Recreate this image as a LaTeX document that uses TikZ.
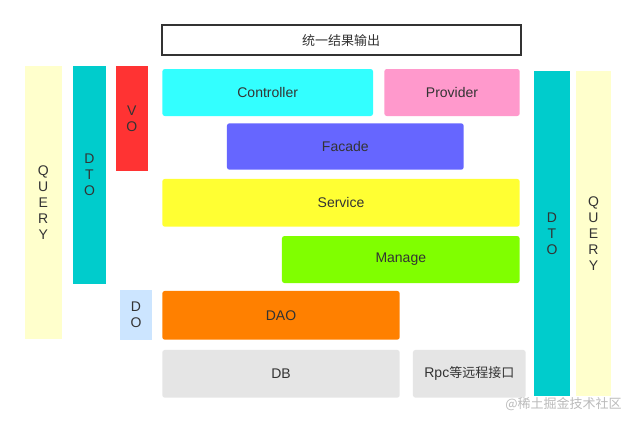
\documentclass[tikz,border=0pt]{standalone}
\usepackage{fontspec}
\setmainfont{Liberation Sans}
\newfontfamily\cjk{Noto Sans CJK SC}
\definecolor{txtgray}{HTML}{333333}
\definecolor{qrycol}{HTML}{FFFFCC}
\definecolor{dtocol}{HTML}{00CCCC}
\definecolor{vocol}{HTML}{FF3333}
\definecolor{docol}{HTML}{CCE5FF}
\definecolor{ctrlcol}{HTML}{33FFFF}
\definecolor{provcol}{HTML}{FF99CC}
\definecolor{faccol}{HTML}{6666FF}
\definecolor{servcol}{HTML}{FFFF33}
\definecolor{mngcol}{HTML}{80FF00}
\definecolor{daocol}{HTML}{FF8000}
\definecolor{dbcol}{HTML}{E5E5E5}
\definecolor{markgray}{HTML}{BBBBBB}
\begin{document}
\begin{tikzpicture}[x=1pt, y=-1pt, font=\fontsize{14}{16}\selectfont, text=txtgray,
		layer/.style={inner sep=0pt, rounded corners=2.5pt},
		column/.style={inner sep=0pt, align=center, font=\fontsize{14}{16}\selectfont}]
	\useasboundingbox[fill=white] (0,0) rectangle (636,424);
	\node[draw=txtgray, line width=2pt, inner sep=0pt, minimum width=359, minimum height=30] (out) at (341,40.2) {\cjk\fontsize{13}{16}\selectfont 统一结果输出};
	\node[column, fill=qrycol, minimum width=36.7, minimum height=273.3] (qryL) at (43.3,202.7) {Q\\U\\E\\R\\Y};
	\node[column, fill=dtocol, minimum width=33, minimum height=218.3] (dtoL) at (89.5,175.2) {D\\T\\O};
	\node[column, fill=vocol, minimum width=31.7, minimum height=104.7] (vo) at (131.8,118.3) {V\\O};
	\node[column, fill=docol, minimum width=32, minimum height=49.7] (do) at (136,314.8) {D\\O};
	\node[column, fill=dtocol, minimum width=36, minimum height=325] (dtoR) at (552,233.5) {D\\T\\O};
	\node[column, fill=qrycol, minimum width=35, minimum height=325] (qryR) at (593.5,233.5) {Q\\U\\E\\R\\Y};
	\node[layer, fill=ctrlcol, minimum width=210.7, minimum height=47] (ctrl) at (267.7,92.5) {Controller};
	\node[layer, fill=provcol, minimum width=135.4, minimum height=47] (prov) at (452,92.5) {Provider};
	\node[layer, fill=faccol, minimum width=236.7, minimum height=46.4] (fac) at (345.3,146.5) {Facade};
	\node[layer, fill=servcol, minimum width=357.4, minimum height=47.7] (serv) at (341,202.8) {Service};
	\node[layer, fill=mngcol, minimum width=237.7, minimum height=47] (mng) at (400.8,259.5) {Manage};
	\node[layer, fill=daocol, minimum width=237.4, minimum height=48.7] (dao) at (281,315.3) {DAO};
	\node[layer, fill=dbcol, minimum width=237.4, minimum height=47.7] (db) at (281,373.8) {DB};
	\node[layer, fill=dbcol, minimum width=112.7, minimum height=47.7] (rpc) at (469.3,373.8) {Rpc{\cjk\fontsize{13}{16}\selectfont 等远程接口}};
	\node[inner sep=0pt, text=markgray] (mark) at (563.5,404) {\cjk\fontsize{13}{16}\selectfont @稀土掘金技术社区};
\end{tikzpicture}
\end{document}
